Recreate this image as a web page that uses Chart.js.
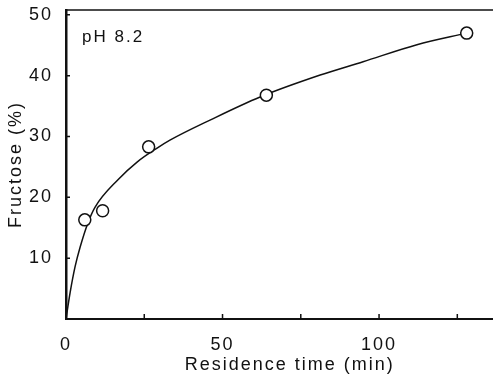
<!DOCTYPE html>
<html>
<head>
<meta charset="utf-8">
<script src="https://cdn.jsdelivr.net/npm/chart.js@4.4.1/dist/chart.umd.min.js"></script>
<style>
  html, body { margin: 0; padding: 0; background: #fff; }
  #wrap { width: 493px; height: 383px; }
</style>
</head>
<body>
<div id="wrap"><canvas id="cht"></canvas></div>
<script>
"use strict";

// measured points (residence time in min, fructose %)
var timeMin = [6, 11.7, 26.4, 64, 128];
var fructose = [16.3, 17.8, 28.3, 36.8, 47.0];

// fitted curve
var curveX = [0, 1.3, 2.9, 4.5, 7, 9.3, 16.6, 22.7, 29.1, 33.2, 46, 62, 81.2, 94.9, 112.1, 128];
var curveY = [0, 4.3, 8.6, 11.8, 15.8, 18.4, 22.9, 25.8, 28.1, 29.4, 32.7, 36.5, 40.1, 42.3, 45.1, 47.0];

var xTicks = [0, 25, 50, 75, 100, 125];
var yTicks = [10, 20, 30, 40, 50];
var noteText = "pH 8.2";
var xTitle = "Residence time (min)";

var ink = "#111";
var fontName = "'Liberation Sans', Arial, sans-serif";

function toPoints(xs, ys) {
	var out = [];
	for (var i = 0; i < xs.length; i++) {
		out.push({x: xs[i], y: ys[i]});
	}
	return out;
}

// frame top line, inward tick marks, the pH note and x title
var framePlugin = {
	id: 'frame',
	beforeDraw: function (chart) {
		chart.ctx.letterSpacing = '2px';
	},
	afterDraw: function (chart) {
		var ctx = chart.ctx;
		var a = chart.chartArea;
		var xs = chart.scales.x;
		var ys = chart.scales.y;
		ctx.save();
		ctx.strokeStyle = ink;
		ctx.lineWidth = 1.5;
		ctx.beginPath();
		ctx.moveTo(a.left, a.top);
		ctx.lineTo(a.right, a.top);
		ctx.stroke();

		ctx.beginPath();
		for (var i = 1; i < xTicks.length; i++) {
			var px = xs.getPixelForValue(xTicks[i]);
			ctx.moveTo(px, a.bottom);
			ctx.lineTo(px, a.bottom - 5);
		}
		for (var j = 0; j < yTicks.length; j++) {
			var py = ys.getPixelForValue(yTicks[j]);
			ctx.moveTo(a.left, py);
			ctx.lineTo(a.left + 4, py);
		}
		ctx.stroke();

		ctx.letterSpacing = '2px';
		ctx.fillStyle = ink;
		ctx.textBaseline = 'middle';
		ctx.font = "17px " + fontName;
		ctx.textAlign = 'left';
		ctx.fillText(noteText, a.left + 16, a.top + 27);

		ctx.font = "18px " + fontName;
		ctx.textAlign = 'center';
		ctx.fillText(xTitle, xs.getPixelForValue(71.5), a.bottom + 46);
		ctx.restore();
	}
};

new Chart(document.getElementById("cht").getContext('2d'), {
	type: 'scatter',
	data: {
		datasets: [{
			label: 'measured',
			data: toPoints(timeMin, fructose),
			showLine: false,
			pointStyle: 'circle',
			pointRadius: 6,
			pointBackgroundColor: '#fff',
			pointBorderColor: ink,
			pointBorderWidth: 1.5
		}, {
			label: 'fit',
			data: toPoints(curveX, curveY),
			showLine: true,
			pointRadius: 0,
			borderColor: ink,
			borderWidth: 1.5,
			cubicInterpolationMode: 'monotone',
			fill: false
		}]
	},
	options: {
		responsive: true,
		maintainAspectRatio: false,
		animation: false,
		layout: {autoPadding: false, padding: {left: 0, top: 10, right: 0, bottom: 0}},
		plugins: {
			legend: {display: false},
			tooltip: {enabled: false}
		},
		scales: {
			x: {
				type: 'linear',
				min: 0,
				max: 136.4,
				grid: {display: false},
				border: {display: true, color: ink, width: 2},
				afterBuildTicks: function (scale) {
					scale.ticks = xTicks.map(function (v) { return {value: v}; });
				},
				afterFit: function (scale) {
					scale.height = 64;
					scale.paddingLeft = 0;
					scale.paddingRight = 0;
				},
				ticks: {
					autoSkip: false,
					maxRotation: 0,
					padding: 7,
					color: ink,
					font: {family: fontName, size: 18},
					callback: function (v) { return v % 50 == 0 ? String(v) : ''; }
				}
			},
			y: {
				type: 'linear',
				min: 0,
				max: 50.8,
				grid: {display: false},
				border: {display: true, color: ink, width: 2.5},
				afterBuildTicks: function (scale) {
					scale.ticks = yTicks.map(function (v) { return {value: v}; });
				},
				afterFit: function (scale) {
					scale.width = 66;
					scale.paddingTop = 0;
					scale.paddingBottom = 0;
				},
				ticks: {
					padding: 5,
					color: ink,
					font: {family: fontName, size: 18}
				},
				title: {
					display: true,
					text: 'Fructose (%)',
					color: ink,
					font: {family: fontName, size: 18},
					padding: {top: 5, bottom: 0}
				}
			}
		}
	},
	plugins: [framePlugin]
});
</script>
</body>
</html>
